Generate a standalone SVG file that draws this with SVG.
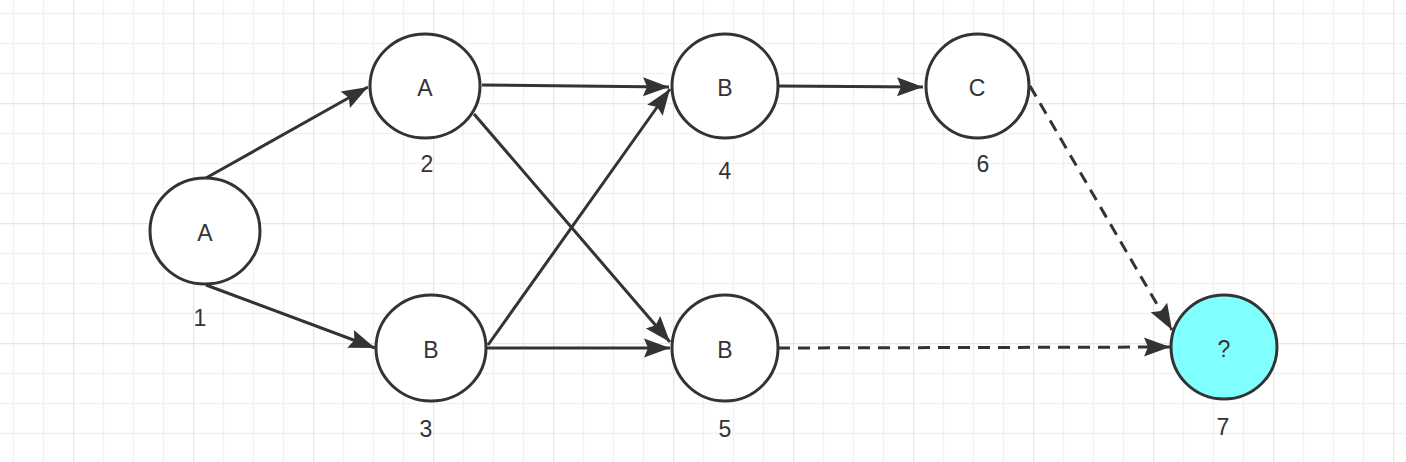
<svg xmlns="http://www.w3.org/2000/svg" width="1406" height="462" viewBox="0 0 1406 462">
<style>
.node{fill:#ffffff;stroke:#333333;stroke-width:3}
.q{fill:#80ffff}
.t{font-family:"Liberation Sans",Arial,sans-serif;font-size:23px;fill:#333333;text-anchor:middle}
.e{fill:none;stroke:#333333;stroke-width:3}
.d{stroke-dasharray:12 8}
</style>
<defs>
<pattern id="grid" patternUnits="userSpaceOnUse" x="73" y="103" width="120" height="120">
<path d="M30.5 0V120M60.5 0V120M90.5 0V120M0 30.5H120M0 60.5H120M0 90.5H120" stroke="#f2f2f2" stroke-width="1.5" fill="none"/>
<path d="M0.5 0V120M0 0.5H120" stroke="#e6e6e6" stroke-width="1.5" fill="none"/>
</pattern>
<marker id="arr" markerUnits="userSpaceOnUse" viewBox="-28 -11 30 22" refX="0" refY="0" markerWidth="30" markerHeight="22" orient="auto">
<path d="M0 0L-26 -9.5L-22 0L-26 9.5Z" fill="#333333"/>
</marker>
</defs>
<rect width="1406" height="462" fill="#ffffff"/>
<rect width="1406" height="462" fill="url(#grid)"/>
<g id="connectors">
<line class="e" x1="206" y1="178" x2="368" y2="87" marker-end="url(#arr)"/>
<line class="e" x1="206" y1="285" x2="375" y2="348" marker-end="url(#arr)"/>
<line class="e" x1="482" y1="85" x2="669" y2="87" marker-end="url(#arr)"/>
<line class="e" x1="474" y1="114" x2="670" y2="342" marker-end="url(#arr)"/>
<line class="e" x1="488" y1="345" x2="670" y2="89" marker-end="url(#arr)"/>
<line class="e" x1="487" y1="348" x2="670" y2="348" marker-end="url(#arr)"/>
<line class="e" x1="778" y1="86" x2="923" y2="87" marker-end="url(#arr)"/>
<line class="e d" x1="1030" y1="86" x2="1172" y2="330" marker-end="url(#arr)"/>
<line class="e d" x1="778" y1="348" x2="1170" y2="347" marker-end="url(#arr)"/>
</g>
<g id="node1"><ellipse class="node" cx="205" cy="231" rx="55" ry="53"/><text class="t" x="205" y="241">A</text><text class="t" x="200" y="326">1</text></g>
<g id="node2"><ellipse class="node" cx="425" cy="86" rx="55" ry="52"/><text class="t" x="425" y="96">A</text><text class="t" x="427" y="172">2</text></g>
<g id="node3"><ellipse class="node" cx="431" cy="348" rx="55" ry="53"/><text class="t" x="431" y="358">B</text><text class="t" x="426" y="437">3</text></g>
<g id="node4"><ellipse class="node" cx="725" cy="86" rx="53" ry="52"/><text class="t" x="725" y="96">B</text><text class="t" x="725" y="179">4</text></g>
<g id="node5"><ellipse class="node" cx="725" cy="348" rx="53" ry="53"/><text class="t" x="725" y="358">B</text><text class="t" x="725" y="437">5</text></g>
<g id="node6"><ellipse class="node" cx="977.5" cy="86" rx="51.5" ry="52"/><text class="t" x="977" y="96">C</text><text class="t" x="983" y="172">6</text></g>
<g id="node7"><ellipse class="node q" cx="1224" cy="347" rx="53" ry="52"/><text class="t" x="1224" y="357">?</text><text class="t" x="1223" y="435">7</text></g>
</svg>
